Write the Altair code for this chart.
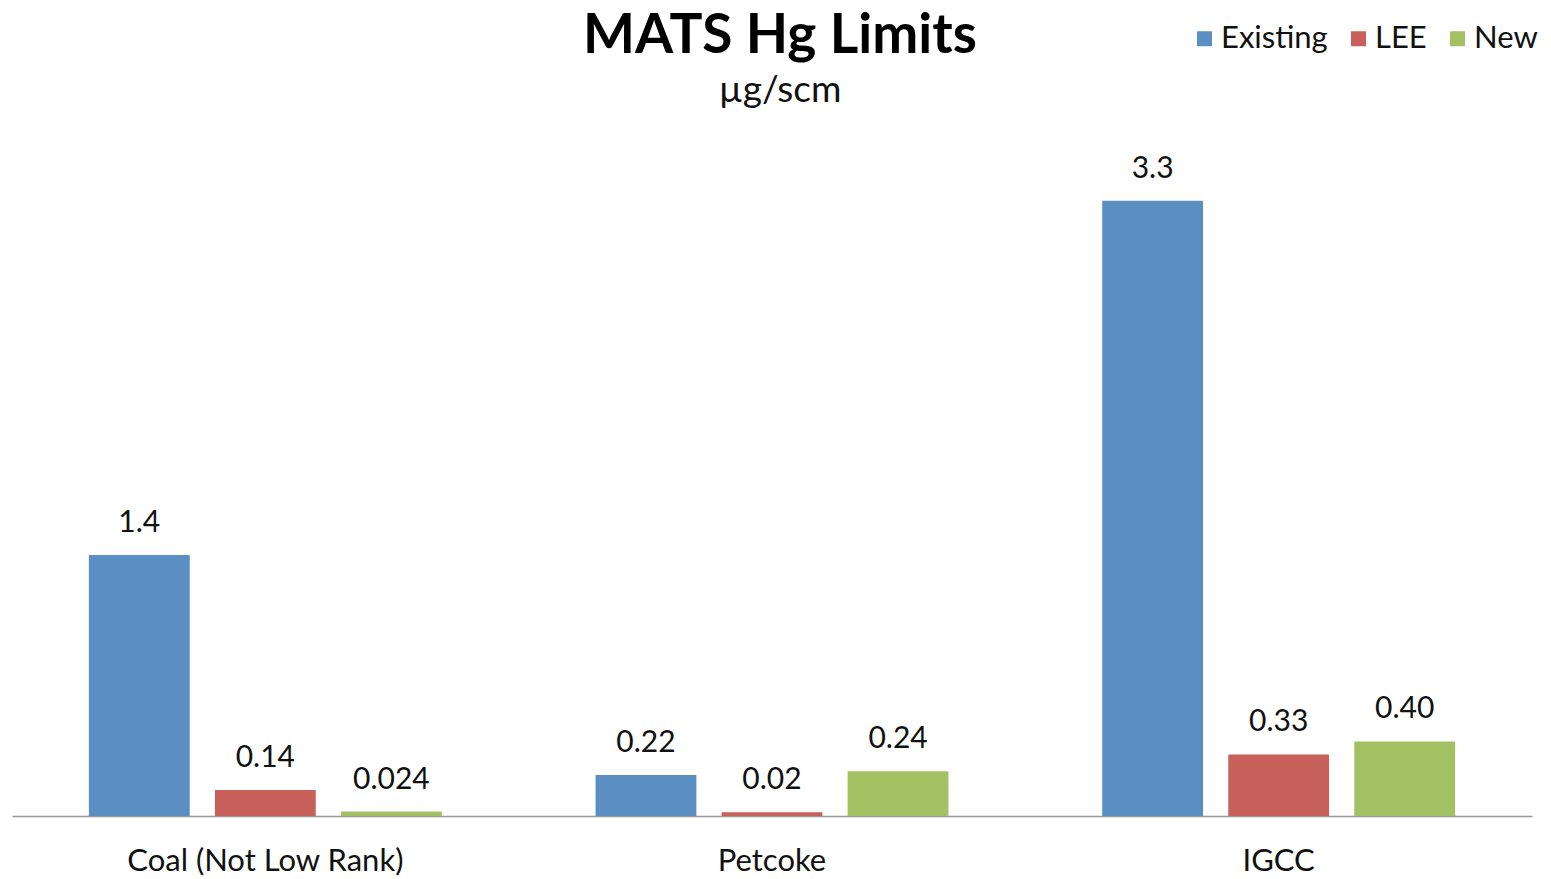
import altair as alt
import pandas as pd

categories = ["Coal (Not Low Rank)", "Petcoke", "IGCC"]
series = ["Existing", "LEE", "New"]
existing = [1.4, 0.22, 3.3]
lee = [0.14, 0.02, 0.33]
new = [0.024, 0.24, 0.40]
existing_lbl = ["1.4", "0.22", "3.3"]
lee_lbl = ["0.14", "0.02", "0.33"]
new_lbl = ["0.024", "0.24", "0.40"]
colors = ["#5B8EC2", "#C8605B", "#A3C162"]

rows = []
for vals, lbls, s in [(existing, existing_lbl, "Existing"), (lee, lee_lbl, "LEE"), (new, new_lbl, "New")]:
    for c, v, l in zip(categories, vals, lbls):
        rows.append({"category": c, "series": s, "value": v, "label": l})
df = pd.DataFrame(rows)

FONT = "Lato"

x = alt.X("category:N", sort=categories, title=None,
          scale=alt.Scale(paddingInner=0, paddingOuter=0),
          axis=alt.Axis(labelAngle=0, labelFontSize=31, labelFont=FONT, labelColor="#111",
                        labelLimit=600,
                        ticks=False, domainColor="#999", domainWidth=1.5, labelPadding=30))
xo = alt.XOffset("series:N", sort=series,
                 scale=alt.Scale(paddingInner=0.2, paddingOuter=0.61))
y = alt.Y("value:Q", scale=alt.Scale(domain=[0, 3.68], nice=False, zero=True), axis=None)

bars = alt.Chart(df).mark_bar().encode(
    x=x, xOffset=xo, y=y,
    color=alt.Color("series:N", sort=series,
                    scale=alt.Scale(domain=series, range=colors),
                    legend=alt.Legend(title=None, orient="none", direction="horizontal",
                                      legendX=1177, legendY=-107, padding=0,
                                      symbolType="square", symbolSize=225,
                                      symbolStrokeWidth=0,
                                      labelFontSize=31, labelFont=FONT, labelColor="#111",
                                      labelOffset=1, columnPadding=15)),
)

text = alt.Chart(df).mark_text(baseline="alphabetic", dy=-23, fontSize=30, font=FONT, color="#111").encode(
    x=x, xOffset=xo, y=y, text="label:N"
)

chart = (bars + text).properties(
    width=1520, height=686,
    title=alt.TitleParams(text="MATS Hg Limits", subtitle="µg/scm",
                          fontSize=55, font=FONT, fontWeight="bold", color="#000",
                          subtitleFontSize=37, subtitleFont=FONT, subtitleColor="#111",
                          anchor="middle", frame="group", offset=0, dx=8, dy=87,
                          subtitlePadding=8),
    autosize=alt.AutoSizeParams(type="none"),
    padding={"left": 4, "top": 122, "right": 11, "bottom": 62},
).configure_view(stroke=None)

chart.save("out.html", embed_options={"renderer": "svg", "actions": False})
